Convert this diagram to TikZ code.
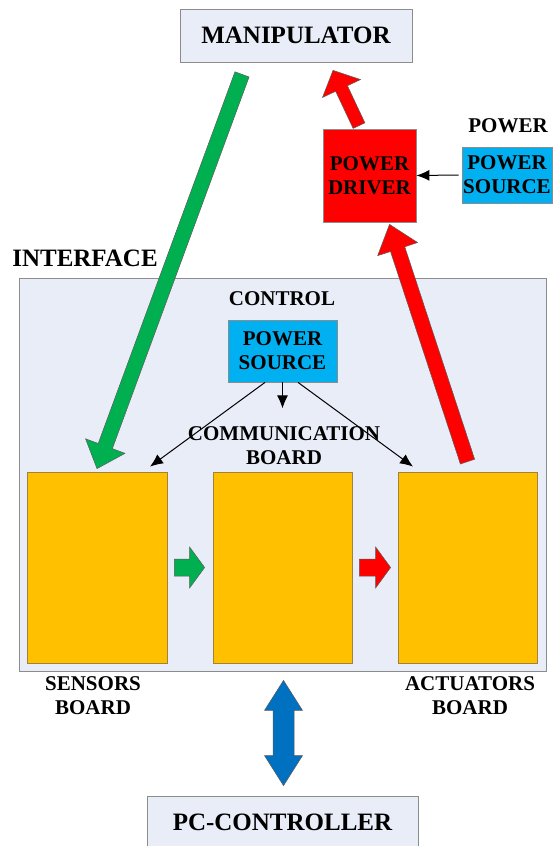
\documentclass[tikz,border=0pt]{standalone}
\usepackage{fontspec}
\setmainfont{Liberation Serif}
\usetikzlibrary{calc,arrows.meta}
\definecolor{lightbg}{RGB}{233,237,247}
\definecolor{boxline}{RGB}{140,140,140}
\definecolor{boardfill}{RGB}{255,192,0}
\definecolor{boardline}{RGB}{160,130,60}
\definecolor{redfill}{RGB}{255,0,0}
\definecolor{greenfill}{RGB}{0,176,80}
\definecolor{bluefill}{RGB}{0,112,192}
\definecolor{cyanfill}{RGB}{0,176,240}
\definecolor{arrline}{RGB}{90,90,90}
\newcommand{\mytxt}{\fontsize{21}{24}\selectfont\bfseries}
\newcommand{\bigtxt}{\fontsize{25}{28}\selectfont\bfseries}
% block arrow: #1 style, #2 tail, #3 tip, #4 half shaft, #5 half head, #6 head length
\newcommand{\blockarrow}[6]{%
  \coordinate (ba) at ($(#3)!#6!(#2)$);
  \filldraw[#1] ($(#2)!#4!90:(#3)$) -- ($(ba)!#4!90:(#3)$) -- ($(ba)!#5!90:(#3)$) -- (#3)
    -- ($(ba)!#5!-90:(#3)$) -- ($(ba)!#4!-90:(#3)$) -- ($(#2)!#4!-90:(#3)$) -- cycle;}
% double block arrow
\newcommand{\dblarrow}[6]{%
  \coordinate (bb1) at ($(#2)!#6!(#3)$);
  \coordinate (bb2) at ($(#3)!#6!(#2)$);
  \filldraw[#1] (#2) -- ($(bb1)!#5!90:(#3)$) -- ($(bb1)!#4!90:(#3)$) -- ($(bb2)!#4!-90:(#2)$)
    -- ($(bb2)!#5!-90:(#2)$) -- (#3) -- ($(bb2)!#5!90:(#2)$) -- ($(bb2)!#4!90:(#2)$)
    -- ($(bb1)!#4!-90:(#3)$)  -- ($(bb1)!#5!-90:(#3)$) -- cycle;}
\tikzset{
  box/.style={draw=boxline, line width=0.8pt, inner sep=0pt, align=center, font=\mytxt},
  lightbox/.style={box, fill=lightbg},
  boardbox/.style={draw=boardline, line width=0.8pt, fill=boardfill, inner sep=0pt},
  lab/.style={inner sep=0pt, align=center, font=\mytxt},
  thinarr/.style={-{Latex[length=13pt,width=11pt]}, line width=1pt, black},
  greenarr/.style={fill=greenfill, draw=arrline, line width=0.5pt},
  redarr/.style={fill=redfill, draw=arrline, line width=0.5pt},
  bluearr/.style={fill=bluefill, draw=arrline, line width=0.5pt},
}
\begin{document}
\begin{tikzpicture}[x=1pt,y=-1pt]
\useasboundingbox (0,0) rectangle (553,846);
\fill[white] (0,0) rectangle (553,846);

% top boxes
\node[lightbox, minimum width=232pt, minimum height=53pt, font=\bigtxt] (man) at (296,35.5) {MANIPULATOR};
\node[box, fill=redfill, minimum width=93pt, minimum height=93pt] (drv) at (369.5,175.5) {POWER\\DRIVER};
\node[box, fill=cyanfill, minimum width=90pt, minimum height=56pt] (psr) at (507,175) {POWER\\SOURCE};
\node[lab] (powlab) at (508,126) {POWER};

% interface
\node[lightbox, minimum width=527pt, minimum height=393pt] (iface) at (282.5,474.5) {};
\node[lab, font=\bigtxt] (ifacelab) at (85,258) {INTERFACE};
\node[lab] (ctrllab) at (282,299) {CONTROL};
\node[box, fill=cyanfill, minimum width=109pt, minimum height=62pt] (psc) at (282.5,351) {POWER\\SOURCE};

% boards
\node[boardbox, minimum width=140pt, minimum height=191pt] (sens) at (97,567.5) {};
\node[boardbox, minimum width=139pt, minimum height=191pt] (comm) at (282.5,567.5) {};
\node[boardbox, minimum width=139pt, minimum height=191pt] (act) at (467.5,567.5) {};

% thin arrows from control power source
\coordinate (cmid) at ([yshift=-26pt]psc.south);
\draw[thinarr] ([xshift=-17.5pt]psc.south) -- ([xshift=53pt,yshift=5pt]sens.north);
\draw[thinarr] (psc.south) -- (cmid);
\draw[thinarr] ([xshift=15.5pt]psc.south) -- ([xshift=-54.5pt,yshift=5pt]act.north);
\draw[thinarr] ([xshift=-3pt]psr.west) -- (drv.east);

\node[lab] (commlab) at (284,446) {COMMUNICATION\\BOARD};
\node[lab] (senslab) at (93,696) {SENSORS\\BOARD};
\node[lab] (actlab) at (470,696) {ACTUATORS\\BOARD};

% bottom box
\node[lightbox, minimum width=271pt, minimum height=52pt, font=\bigtxt] (pc) at (282.5,822) {PC-CONTROLLER};

% block arrows
\coordinate (g1) at ([xshift=-54pt,yshift=-12pt]man.south);
\coordinate (g2) at ([yshift=3pt]sens.north);
\blockarrow{greenarr}{g1}{g2}{7.5pt}{21pt}{24pt}

\coordinate (r1) at ([yshift=10pt]act.north);
\coordinate (r2) at ([xshift=20pt,yshift=-2pt]drv.south);
\blockarrow{redarr}{r1}{r2}{7.5pt}{21pt}{26pt}

\coordinate (r3) at ([xshift=-10.5pt,yshift=3pt]drv.north);
\coordinate (r4) at ([xshift=37pt,yshift=-8pt]man.south);
\blockarrow{redarr}{r3}{r4}{6.5pt}{21pt}{20pt}

\coordinate (s1) at ([xshift=7pt]sens.east);
\coordinate (s2) at ([xshift=-8pt]comm.west);
\blockarrow{greenarr}{s1}{s2}{8.5pt}{20.5pt}{15pt}

\coordinate (a1) at ([xshift=7pt]comm.east);
\coordinate (a2) at ([xshift=-7pt]act.west);
\blockarrow{redarr}{a1}{a2}{8.5pt}{20.5pt}{15pt}

\coordinate (b1) at ([xshift=1pt,yshift=-9pt]iface.south);
\coordinate (b2) at ([xshift=1pt,yshift=10pt]pc.north);
\dblarrow{bluearr}{b1}{b2}{10.5pt}{19pt}{30pt}
\end{tikzpicture}
\end{document}
